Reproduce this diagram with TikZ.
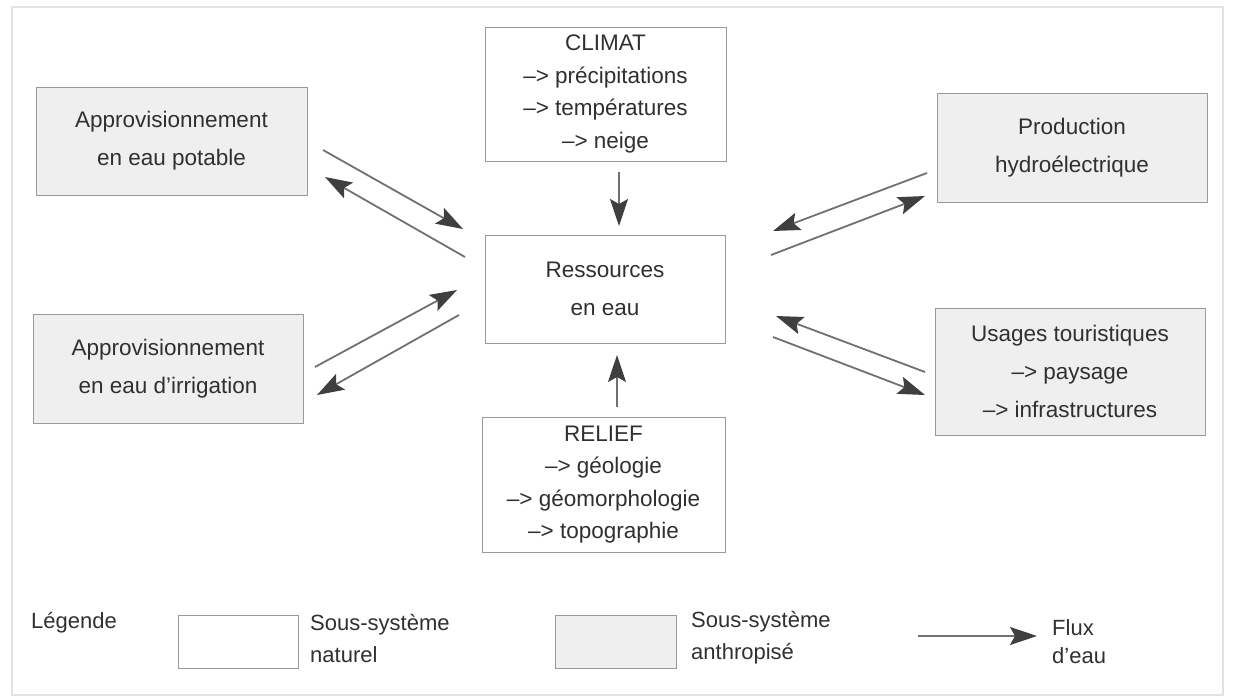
\documentclass[tikz,border=0pt]{standalone}
\usepackage{fontspec}
\setmainfont{Liberation Sans}
\usetikzlibrary{arrows.meta}
\definecolor{txt}{HTML}{303030}
\definecolor{fillg}{HTML}{EFEFEF}
\definecolor{edge}{HTML}{9A9A9A}
\definecolor{flow}{HTML}{707070}
\definecolor{headc}{HTML}{3F3F3F}
\definecolor{frame}{HTML}{E2E2E2}
\begin{document}
\begin{tikzpicture}[x=1pt,y=-1pt,
  box/.style={draw=edge, line width=0.9pt, inner sep=0pt, align=center, text=txt,
    font=\fontsize{22.5}{38}\selectfont},
  nat/.style={box, fill=white},
  ant/.style={box, fill=fillg},
  tight/.style={font=\fontsize{22.5}{32.5}\selectfont},
  flux/.style={draw=flow, line width=1.8pt,
    -{Stealth[length=27pt,width=18pt,inset=5pt,color=headc,fill=headc]}},
  lab/.style={text=txt, font=\fontsize{22}{32}\selectfont, align=left, anchor=west, inner sep=0pt}]
\useasboundingbox (0,0) rectangle (1233,697);
\draw[frame, line width=1.2pt] (12,7) rectangle (1223,695);

% boxes
\node[ant, minimum width=271pt, minimum height=108pt] (pot) at (171.5,141)
  {Approvisionnement\\en eau potable};
\node[ant, minimum width=270pt, minimum height=109pt] (irr) at (168,368.5)
  {Approvisionnement\\en eau d’irrigation};
\node[nat, tight, minimum width=241pt, minimum height=134pt] (cli) at (605.5,94)
  {CLIMAT\\\textendash> précipitations\\\textendash> températures\\\textendash> neige};
\node[ant, minimum width=270pt, minimum height=109pt] (prod) at (1072,147.5)
  {Production\\hydroélectrique};
\node[nat, minimum width=240pt, minimum height=108pt] (res) at (605,289)
  {Ressources\\en eau};
\node[ant, minimum width=270pt, minimum height=127pt] (usg) at (1070,371.5)
  {Usages touristiques\\\textendash> paysage\\\textendash> infrastructures};
\node[nat, tight, minimum width=243pt, minimum height=135pt] (rel) at (603.5,484.5)
  {RELIEF\\\textendash> géologie\\\textendash> géomorphologie\\\textendash> topographie};

% arrow end points
\coordinate (a1s) at (323,150); \coordinate (a1e) at (463,229);
\coordinate (a2s) at (465,257); \coordinate (a2e) at (325,177);
\coordinate (a3s) at (315,367); \coordinate (a3e) at (457,290);
\coordinate (a4s) at (459,315); \coordinate (a4e) at (317,395);
\coordinate (a5s) at (927,173); \coordinate (a5e) at (773,231);
\coordinate (a6s) at (771,255); \coordinate (a6e) at (925,196);
\coordinate (a7s) at (925,372); \coordinate (a7e) at (776,316);
\coordinate (a8s) at (773,337); \coordinate (a8e) at (925,395);
\coordinate (a9s) at (619,172); \coordinate (a9e) at (619,226);
\coordinate (a10s) at (617,407); \coordinate (a10e) at (617,355);

\draw[flux] (a1s) -- (a1e);
\draw[flux] (a2s) -- (a2e);
\draw[flux] (a3s) -- (a3e);
\draw[flux] (a4s) -- (a4e);
\draw[flux] (a5s) -- (a5e);
\draw[flux] (a6s) -- (a6e);
\draw[flux] (a7s) -- (a7e);
\draw[flux] (a8s) -- (a8e);
\draw[flux] (a9s) -- (a9e);
\draw[flux] (a10s) -- (a10e);

% legend
\node[lab] (leg) at (31,623) {Légende};
\node[nat, minimum width=120pt, minimum height=53pt] (lnat) at (238,642) {};
\node[lab] (tnat) at (310,638) {Sous-système\\naturel};
\node[ant, minimum width=121pt, minimum height=53pt] (lant) at (615.5,642) {};
\node[lab] (tant) at (691,638) {Sous-système\\anthropisé};
\coordinate (lfs) at (918,636); \coordinate (lfe) at (1037,636);
\draw[flux] (lfs) -- (lfe);
\node[lab, font=\fontsize{22}{28}\selectfont] (tflux) at (1052,642) {Flux\\d’eau};
\end{tikzpicture}
\end{document}
